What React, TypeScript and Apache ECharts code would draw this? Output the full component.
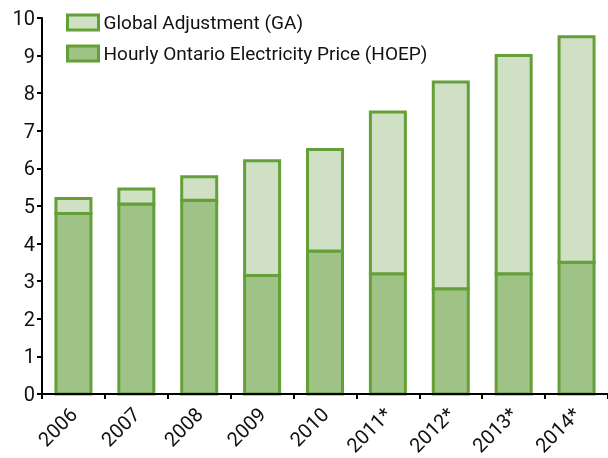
import React, { useEffect, useRef } from "react";
import * as echarts from "echarts";

const categories = ["2006", "2007", "2008", "2009", "2010", "2011*", "2012*", "2013*", "2014*"];
const hoepValues = [4.8, 5.05, 5.15, 3.15, 3.8, 3.2, 2.8, 3.2, 3.5];
const gaValues = [0.4, 0.4, 0.63, 3.05, 2.7, 4.3, 5.5, 5.8, 6.0];
const yTicks = [0, 10, 1];

const FONT = "Roboto, 'Liberation Sans', sans-serif";
const BORDER = "#659F37";
const HOEP_FILL = "#9FC386";
const GA_FILL = "#D0E0C4";
const GA_NAME = "Global Adjustment (GA)";
const HOEP_NAME = "Hourly Ontario Electricity Price (HOEP)";

export default function App() {
  const ref = useRef<HTMLDivElement>(null);
  useEffect(() => {
    if (!ref.current) return;
    const chart = echarts.init(ref.current, undefined, { renderer: "svg" });
    const hoepData = categories.map((_, i) => [i, 0, hoepValues[i]]);
    const gaData = categories.map((_, i) => [i, hoepValues[i], hoepValues[i] + gaValues[i]]);
    const makeRender = (fill: string) => (params: any, api: any) => {
      const x = api.value(0);
      const lo = api.coord([x, api.value(1)]);
      const hi = api.coord([x, api.value(2)]);
      const w = 35;
      return {
        type: "rect",
        shape: { x: lo[0] - w / 2, y: hi[1], width: w, height: lo[1] - hi[1] },
        style: { fill, stroke: BORDER, lineWidth: 3 },
      };
    };
    chart.setOption({
      animation: false,
      textStyle: { fontFamily: FONT },
      grid: { left: 42, right: -2, top: 18, bottom: 63, containLabel: false },
      legend: {
        left: 66,
        top: 13,
        padding: 0,
        orient: "vertical",
        icon: "rect",
        itemWidth: 31,
        itemHeight: 15,
        itemGap: 12,
        textStyle: { fontFamily: FONT, fontSize: 19, color: "#111", padding: [0, 0, 0, 0] },
        data: [
          { name: GA_NAME, itemStyle: { color: GA_FILL, borderColor: BORDER, borderWidth: 3 } },
          { name: HOEP_NAME, itemStyle: { color: HOEP_FILL, borderColor: BORDER, borderWidth: 3 } },
        ],
      },
      xAxis: {
        type: "category",
        data: categories,
        z: 10,
        axisLine: { lineStyle: { color: "#000", width: 2 } },
        axisTick: { show: true, length: 5, lineStyle: { color: "#000", width: 2 } },
        axisLabel: { rotate: 45, fontSize: 20, color: "#111", fontFamily: FONT, margin: 17 },
      },
      yAxis: {
        type: "value",
        min: yTicks[0],
        max: yTicks[1],
        interval: yTicks[2],
        z: 10,
        splitLine: { show: false },
        axisLine: { show: true, lineStyle: { color: "#000", width: 2 } },
        axisTick: { show: true, length: 5, lineStyle: { color: "#000", width: 2 } },
        axisLabel: { fontSize: 20, color: "#111", fontFamily: FONT, margin: 7 },
      },
      series: [
        {
          name: HOEP_NAME,
          type: "custom",
          data: hoepData,
          encode: { x: 0, y: [1, 2] },
          itemStyle: { color: HOEP_FILL, borderColor: BORDER, borderWidth: 3 },
          renderItem: makeRender(HOEP_FILL),
        },
        {
          name: GA_NAME,
          type: "custom",
          data: gaData,
          encode: { x: 0, y: [1, 2] },
          itemStyle: { color: GA_FILL, borderColor: BORDER, borderWidth: 3 },
          renderItem: makeRender(GA_FILL),
        },
      ],
    });
    return () => chart.dispose();
  }, []);
  return <div ref={ref} style={{ position: "fixed", left: 0, top: 0, width: 608, height: 458 }} />;
}
